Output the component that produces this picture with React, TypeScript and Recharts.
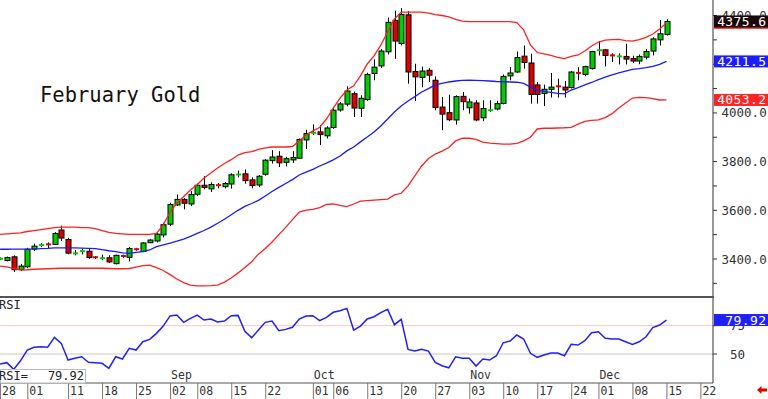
import React from 'react';
import { ComposedChart, LineChart, Line, Bar, XAxis, YAxis, ReferenceLine } from 'recharts';

const FONT = '"DejaVu Sans Mono", monospace';

// Trading-day index 0 = Jul 28, 2025 ... 98 = Dec 15, 2025
const opens = [3400,3394,3409,3356,3368,3441,3457,3460.5,3460,3519, 3480,3423,3431,3432,3407.5,3403,3405,3381,3412.5,3407, 3440.5,3431,3467,3474,3499,3543,3622,3645,3626,3666, 3703,3688,3703.5,3697,3708,3747,3750,3725,3704,3748, 3804,3822,3797,3807,3814,3889,3918,3922,3906,3940, 4012,4036,4079,4019,4055,4162,4193,4251,4380,4285, 4403,4170,4146,4175,4134,4024,4001,3971,4068,4021, 4041,3980,4011,4016,4039,4152,4168,4233,4205,4115, 4080,4097,4109.5,4106,4104,4164.5,4158,4182,4257,4259, 4236.5,4232,4232,4223,4213,4229,4254,4300,4322];
const highs = [3406,3410,3415,3380,3446,3463,3465,3468,3510,3537, 3487,3437,3444,3444,3412,3418,3415,3418,3418,3450, 3446,3469,3481,3509,3549,3631,3665,3650,3679,3710, 3741,3715,3712,3716,3752,3763,3768,3735,3745,3810, 3847,3843,3820,3843,3895,3931,3953,3950,3945,4020, 4045,4109,4088,4072,4165,4220,4262,4392,4420,4430, 4418,4202,4190,4184,4150,4065,4075,4072,4086,4059, 4052,4052,4052,4050,4158,4188,4252,4277,4243,4127, 4116,4164,4141,4131,4172,4188,4194,4255,4295,4263, 4245,4245,4284,4235,4240,4262,4311,4382,4385];
const lows = [3396,3390,3347,3351,3362,3433,3449,3444,3457,3474, 3419,3415,3419,3401,3400,3395,3383,3378,3405,3390, 3434,3428,3465,3468,3489,3535,3618,3604,3617,3658, 3686,3675,3690,3690,3689,3735,3709,3690,3695,3742, 3792,3778,3780,3795,3813,3852,3909,3868,3895,3935, 4005,4027,3983,3983,4050,4134,4185,4240,4222,4277, 4120,4049,4105,4127,4011,3929,3966,3952,4011,3997, 3966,3966,4004,4010,4035,4134,4165,4182,4038,4038, 4028,4063,4063,4063,4100,4134,4150,4178,4236,4191, 4209,4199,4199,4205,4200,4220,4236,4277,4318];
const closes = [3402,3406,3356,3371,3440,3453,3457.5,3460,3505,3486, 3424,3423.5,3434,3406,3407,3403.5,3388,3415,3412,3443, 3440,3466,3478,3502,3541,3624,3645,3629,3665,3703, 3694,3706,3703,3710,3746,3747.5,3722,3702,3740,3806, 3819,3795,3812,3817,3891,3915,3918.5,3911,3938,4011, 4037,4090,4020,4060,4158,4188,4254,4372,4295,4404, 4168,4148,4172,4155,4022,3995,3972,4067,4046,4045, 3971,4018,4011.5,4038,4150,4164,4227,4207,4076,4076, 4097,4106,4109,4094,4168,4164,4190,4252,4257.5,4236, 4236,4232.5,4221,4213,4232,4252,4304,4325,4375.6];

const upperBand = [3501,3503,3505,3507,3513,3517,3521,3525,3529,3531, 3531,3531,3529,3529,3525,3517,3509,3505,3503,3501, 3501,3501,3501,3505,3540,3593,3630,3657,3683,3706, 3733,3753,3774,3792,3808,3827,3837,3841,3850,3856, 3860,3860,3860,3862,3885,3909,3926,3940,3975,4020, 4061,4094,4111,4152,4201,4234,4279,4332,4386,4414, 4414,4414,4414,4410,4404,4400,4394,4384,4377,4375, 4375,4375,4375,4375,4375,4375,4371,4341,4279,4248, 4242,4236,4228,4223,4232,4238,4254,4275,4291,4299, 4301,4302,4297,4295,4301,4310,4324,4345,4369.8];
const midBand = [3440,3440,3441,3441,3441,3441,3443,3444,3446,3446, 3446,3446,3445,3444,3443,3439,3434,3430,3425,3423, 3427,3430,3437,3451,3458,3465,3473,3482,3493,3505, 3517,3531,3547,3563,3582,3600,3616,3628,3641,3659, 3677,3694,3710,3726,3745,3757,3768,3782,3794,3807, 3823,3844,3860,3881,3901,3922,3946,3975,4004,4028, 4049,4067,4086,4100,4115,4121,4127,4131,4134,4135, 4134,4133,4131,4129,4128,4127,4126,4121,4106,4094, 4088,4084,4080,4078,4094,4104,4115,4125,4137,4147, 4156,4164,4172,4179,4182,4186,4191,4199,4211.5];
const lowerBand = [3371,3368,3361,3355,3356,3358,3359,3360,3361,3362, 3362,3362,3362,3362,3362,3362,3361,3360,3360,3361, 3367,3373,3375,3365,3353,3336,3318,3303,3293,3290, 3290,3291,3293,3305,3322,3343,3365,3389,3420,3443, 3470,3500,3530,3562,3593,3601,3604,3611,3624,3626, 3620,3615,3626,3638,3640,3642,3644,3646,3663,3670, 3700,3741,3782,3813,3831,3843,3858,3885,3896,3896, 3891,3880,3876,3874,3872,3872,3875,3885,3900,3934, 3937,3937,3938,3939,3941,3954,3965,3969,3971,3981, 3997,4020,4041,4061,4064,4063,4059,4053,4053.2];
const rsiValues = [41.2,42.4,36.5,44,53.5,55.9,56.4,56.0,64.7,59.4, 44.7,46.2,47.6,42.7,42.3,41.8,37.4,47.6,45.6,55, 53.5,60.8,62.9,68.2,74.6,83.5,84.3,77.9,81.4,84.3, 79.9,80.8,78.2,79,83.7,84,70,64.4,71.1,77.9, 79,70.5,71.7,73.5,80.8,83.5,83.7,79.3,82.3,86.7, 88.1,90.2,71.1,74.6,80.8,82.8,86.5,89.3,75.8,80.5, 54.1,52.6,54.1,52.6,42.7,39.7,37.9,47.6,46.2,46.2, 39.4,45.6,44.7,48.5,59.9,61.4,66.7,63.2,50.6,47.1, 49.1,50.9,50.9,48.5,58.5,57.9,61.7,68.8,69.6,63.8, 63.2,63.2,60.8,58.5,60.8,65.2,73.2,75.5,79.92];

const dateTickIdx = [0,4,10,15,20,25,29,34,39,46,49,54,59,64,69,74,79,84,88,93,98,103];
const dateTickLabels = ['28','01','11','18','25','02','08','15','22','01','06','13','20','27','03','10','17','24','01','08','15','22'];
const monthIdx = [25,46,69,88];
const monthLabels = ['Sep','Oct','Nov','Dec'];
const priceTicks = [3300,3400,3500,3600,3700,3800,3900,4000,4100,4200,4300,4400];
const priceLabelValues = [3400,3600,3800,4000,4400];
const rsiTicks = [50,75];

const X_DOMAIN: [number, number] = [-0.01, 104.85];
const PRICE_DOMAIN: [number, number] = [3244, 4463.7];
const RSI_DOMAIN: [number, number] = [24.5, 99.3];

const GREEN = '#00cc00';
const RED = '#dd0000';

const Candle = (props: any) => {
  const { x, y, width, height, payload } = props;
  if (x == null || y == null || isNaN(x) || isNaN(y) || !payload) return <g />;
  const top = height >= 0 ? y : y + height;
  const hh = Math.abs(height);
  const { o, h, l, c } = payload;
  const ppu = hh / (h - l);
  const yOf = (v: number) => top + (h - v) * ppu;
  const cx = Math.round(x + width / 2);
  const bTop = yOf(Math.max(o, c));
  const bBot = yOf(Math.min(o, c));
  const up = c >= o;
  const bodyH = bBot - bTop;
  return (
    <g>
      <line x1={cx + 0.5} x2={cx + 0.5} y1={top} y2={top + hh} stroke="#000" strokeWidth={1} />
      {bodyH < 1.5 ? (
        <line x1={cx - 2} x2={cx + 3} y1={(bTop + bBot) / 2} y2={(bTop + bBot) / 2} stroke={up ? GREEN : RED} strokeWidth={2} />
      ) : (
        <rect x={cx - 2} y={bTop} width={5} height={bodyH} fill={up ? GREEN : RED} stroke="#000" strokeWidth={1} />
      )}
    </g>
  );
};

const PriceTick = (props: any) => {
  const { x, y, payload } = props;
  if (priceLabelValues.indexOf(payload.value) < 0) return <g />;
  return (
    <text x={x + 2.5} y={y + 4.5} fontSize={12.5} fontFamily={FONT} fill="#333">
      {Number(payload.value).toFixed(1)}
    </text>
  );
};

const RsiTick = (props: any) => {
  const { x, y, payload } = props;
  return (
    <text x={x + 11} y={y + 4.5} fontSize={12.5} fontFamily={FONT} fill="#333">
      {payload.value}
    </text>
  );
};

const DateTick = (props: any) => {
  const { x, y, payload } = props;
  const k = dateTickIdx.indexOf(payload.value);
  const m = monthIdx.indexOf(payload.value);
  return (
    <g>
      <line x1={x + 0.5} x2={x + 0.5} y1={y} y2={y + 16} stroke="#777" strokeWidth={1} />
      <text x={x + 2} y={y + 12} fontSize={11.5} fontFamily={FONT} fill="#333">
        {k >= 0 ? dateTickLabels[k] : ''}
      </text>
      {m >= 0 ? (
        <text x={x + 1} y={y - 4} fontSize={11.5} fontFamily={FONT} fill="#333">
          {monthLabels[m]}
        </text>
      ) : null}
    </g>
  );
};

// price tag drawn just right of the plot area, at the y of the reference value
const makeTag = (text: string, bg: string) => (props: any) => {
  const vb = props.viewBox || {};
  if (vb.y == null) return <g />;
  const right = vb.x + vb.width;
  const cy = vb.y;
  return (
    <g>
      <rect x={right + 1} y={cy - 6} width={55} height={12} fill={bg} />
      <text x={766.5} y={cy + 4.5} textAnchor="end" fontSize={13} fontFamily={FONT} fill="#fff" letterSpacing={0.4}>
        {text}
      </text>
    </g>
  );
};

export default function App() {
  const data = opens.map((o, i) => ({
    i,
    o,
    h: highs[i],
    l: lows[i],
    c: closes[i],
    range: [lows[i], highs[i]],
    upper: upperBand[i],
    mid: midBand[i],
    lower: lowerBand[i],
    rsi: rsiValues[i],
  }));
  const last = data.length - 1;
  const lastClose = closes[last];
  const lastUpper = upperBand[last];
  const lastMid = midBand[last];
  const lastLower = lowerBand[last];
  const lastRsi = rsiValues[last];

  return (
    <div style={{ position: 'relative', width: 768, height: 399, overflow: 'hidden', background: '#fff' }}>
      <style>{`body{margin:0;background:#fff;}`}</style>
      {/* price panel */}
      <div style={{ position: 'absolute', left: 0, top: 0 }}>
        <ComposedChart width={768} height={297} data={data} margin={{ top: 0, right: 0, bottom: 0, left: 0 }}>
          <XAxis type="number" dataKey="i" domain={X_DOMAIN} hide />
          <YAxis
            orientation="right"
            type="number"
            domain={PRICE_DOMAIN}
            allowDataOverflow
            ticks={priceTicks}
            interval={0}
            width={55}
            tickSize={4}
            tickMargin={2}
            axisLine={{ stroke: '#333' }}
            tickLine={{ stroke: '#333' }}
            tick={<PriceTick />}
          />
          <Line type="linear" dataKey="upper" stroke="#ff2020" strokeWidth={1.3} dot={false} activeDot={false} isAnimationActive={false} />
          <Line type="linear" dataKey="mid" stroke="#1a1aff" strokeWidth={1.3} dot={false} activeDot={false} isAnimationActive={false} />
          <Line type="linear" dataKey="lower" stroke="#ff2020" strokeWidth={1.3} dot={false} activeDot={false} isAnimationActive={false} />
          <Bar dataKey="range" barSize={5} shape={<Candle />} isAnimationActive={false} />
        </ComposedChart>
      </div>
      {/* price tags overlay (same scales) */}
      <div style={{ position: 'absolute', left: 0, top: 0 }}>
        <ComposedChart width={768} height={297} data={data} margin={{ top: 0, right: 55, bottom: 0, left: 0 }}>
          <XAxis type="number" dataKey="i" domain={X_DOMAIN} hide />
          <YAxis type="number" domain={PRICE_DOMAIN} allowDataOverflow hide />
          <ReferenceLine y={lastLower} stroke="none" label={makeTag(lastLower.toFixed(1), '#ff2424')} />
          <ReferenceLine y={lastMid} stroke="none" label={makeTag(lastMid.toFixed(1), '#1c1cff')} />
          <ReferenceLine y={lastUpper} stroke="none" label={makeTag(lastUpper.toFixed(1), '#ff2424')} />
          <ReferenceLine y={lastClose} stroke="none" label={makeTag(lastClose.toFixed(1), '#1a0808')} />
        </ComposedChart>
      </div>
      <div style={{ position: 'absolute', left: 0, top: 296, width: 714, height: 2, background: '#555' }} />
      {/* RSI panel */}
      <div style={{ position: 'absolute', left: 0, top: 297 }}>
        <LineChart width={768} height={102} data={data} margin={{ top: 1, right: 0, bottom: 0, left: 0 }}>
          <XAxis
            type="number"
            dataKey="i"
            domain={X_DOMAIN}
            ticks={dateTickIdx}
            interval={0}
            height={16}
            tickSize={0}
            tickMargin={0}
            tickLine={false}
            axisLine={{ stroke: '#555' }}
            tick={<DateTick />}
          />
          <YAxis
            orientation="right"
            type="number"
            domain={RSI_DOMAIN}
            allowDataOverflow
            ticks={rsiTicks}
            interval={0}
            width={55}
            tickSize={4}
            tickMargin={2}
            axisLine={{ stroke: '#333' }}
            tickLine={{ stroke: '#333' }}
            tick={<RsiTick />}
          />
          <ReferenceLine y={75} stroke="#ffc4c4" strokeWidth={1} />
          <ReferenceLine y={50} stroke="#c8c8c8" strokeWidth={1} />
          <Line type="linear" dataKey="rsi" stroke="#2020ff" strokeWidth={1.5} dot={false} activeDot={false} isAnimationActive={false} />
        </LineChart>
      </div>
      {/* RSI tag overlay */}
      <div style={{ position: 'absolute', left: 0, top: 297 }}>
        <LineChart width={768} height={102} data={data} margin={{ top: 1, right: 55, bottom: 16, left: 0 }}>
          <XAxis type="number" dataKey="i" domain={X_DOMAIN} hide />
          <YAxis type="number" domain={RSI_DOMAIN} allowDataOverflow hide />
          <ReferenceLine y={lastRsi} stroke="none" label={makeTag(lastRsi.toFixed(2), '#2020ff')} />
        </LineChart>
      </div>
      <svg width={768} height={399} style={{ position: 'absolute', left: 0, top: 0, pointerEvents: 'none' }}>
        <text x={40} y={102} fontSize={20.5} fontFamily={FONT} fill="#111">February Gold</text>
        <text x={-1} y={309} fontSize={12} fontFamily={FONT} fill="#222">RSI</text>
        <rect x={0.5} y={369.5} width={85} height={13.5} fill="#fff" stroke="#bbb" />
        <text x={-1} y={380} fontSize={12} fontFamily={FONT} fill="#222">RSI=</text>
        <text x={84} y={380} textAnchor="end" fontSize={12} fontFamily={FONT} fill="#222">{lastRsi.toFixed(2)}</text>
        <path d="M757 390 L761.5 386 L761.5 388.5 L767 388.5 L767 391.5 L761.5 391.5 L761.5 394 Z" fill="#e00000" />
      </svg>
    </div>
  );
}
